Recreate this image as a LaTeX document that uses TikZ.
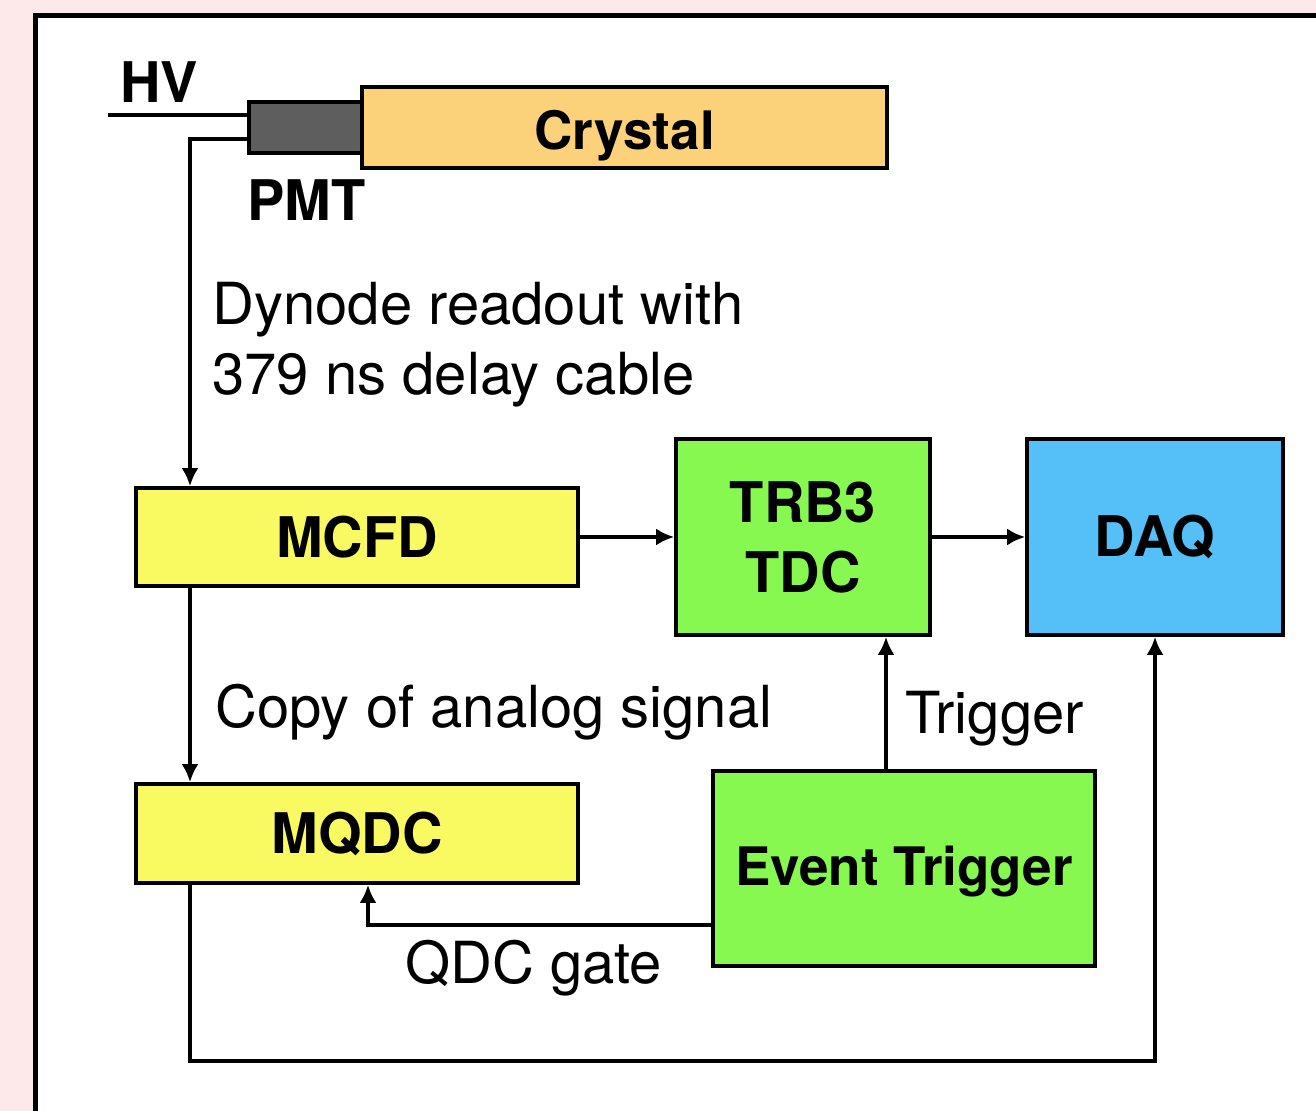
\documentclass[tikz,border=0pt]{standalone}
\usepackage{fontspec}
\setmainfont{TeX Gyre Heros}
\usetikzlibrary{arrows.meta}
\definecolor{bgpink}{RGB}{253,233,233}
\definecolor{crys}{RGB}{251,209,122}
\definecolor{pmtgray}{RGB}{94,94,94}
\definecolor{ylw}{RGB}{249,249,98}
\definecolor{grn}{RGB}{135,248,79}
\definecolor{blu}{RGB}{85,191,248}
\begin{document}
\begin{tikzpicture}[x=0.5pt,y=-0.5pt,
  every node/.style={font=\fontsize{29}{35}\selectfont},
  box/.style={draw=black,line width=1.8pt,rectangle,inner sep=0pt,font=\fontsize{28}{35}\selectfont\bfseries,align=center},
  wire/.style={draw=black,line width=1.9pt},
  arr/.style={wire,-{Latex[length=9pt,width=8.5pt]}},
  lbl/.style={anchor=base west,inner sep=0pt},
  blbl/.style={anchor=base west,inner sep=0pt,font=\fontsize{28}{35}\selectfont\bfseries}]
\path[use as bounding box,fill=bgpink] (0,0) rectangle (1316,1111);
\clip (0,0) rectangle (1316,1111);
\draw[line width=2.5pt,fill=white] (35.5,1130) -- (35.5,15.5) -- (1330,15.5) -- (1330,1130) -- cycle;
% boxes
\node[box,fill=pmtgray,minimum width=57pt,minimum height=25.5pt] (pmt) at (306,127.5) {};
\node[box,fill=crys,minimum width=262.5pt,minimum height=40.5pt,text height=22.5pt,text depth=0pt,font=\fontsize{26.5}{35}\selectfont\bfseries] (crystal) at (624.5,127.5) {Crystal};
\node[box,fill=ylw,minimum width=221pt,minimum height=49pt] (mcfd) at (357,537) {MCFD};
\node[box,fill=grn,minimum width=127pt,minimum height=98pt] (trb) at (803,537) {TRB3\\TDC};
\node[box,fill=blu,minimum width=128pt,minimum height=98pt] (daq) at (1155,537) {DAQ};
\node[box,fill=ylw,minimum width=221pt,minimum height=49.5pt] (mqdc) at (357,833.5) {MQDC};
\node[box,fill=grn,minimum width=191pt,minimum height=97.5pt,text height=16.5pt,text depth=0pt,font=\fontsize{26.5}{35}\selectfont\bfseries] (evt) at (904,868.5) {Event Trigger};
% labels
\node[blbl] (hv) at (120,103) {HV};
\node[blbl] (pmtlbl) at (247,221) {PMT};
\node[lbl] (dyn1) at (212,325) {Dynode readout with};
\node[lbl] (dyn2) at (212,395) {379 ns delay cable};
\node[lbl] (copy) at (215,727) {Copy of analog signal};
\node[lbl] (trig) at (905,733) {Trigger};
\node[lbl] (qdcg) at (405,983) {QDC gate};
% coordinates
\coordinate (hvstart) at (108,115);
\coordinate (c1) at (190,139);
\coordinate (tx) at (886,700);
\coordinate (gx) at (368,925);
\coordinate (bl) at (190,1061);
% connectors
\draw[wire] (hvstart) -- (hvstart -| pmt.west);
\draw[arr] (c1 -| pmt.west) -- (c1) -- (c1 |- mcfd.north);
\draw[arr] (mcfd.east) -- (trb.west);
\draw[arr] (trb.east) -- (daq.west);
\draw[arr] (c1 |- mcfd.south) -- (c1 |- mqdc.north);
\draw[arr] (tx |- evt.north) -- (tx |- trb.south);
\draw[arr] (gx -| evt.west) -- (gx) -- (gx |- mqdc.south);
\draw[arr] (bl |- mqdc.south) -- (bl) -- (bl -| daq.south) -- (daq.south);
\end{tikzpicture}
\end{document}
